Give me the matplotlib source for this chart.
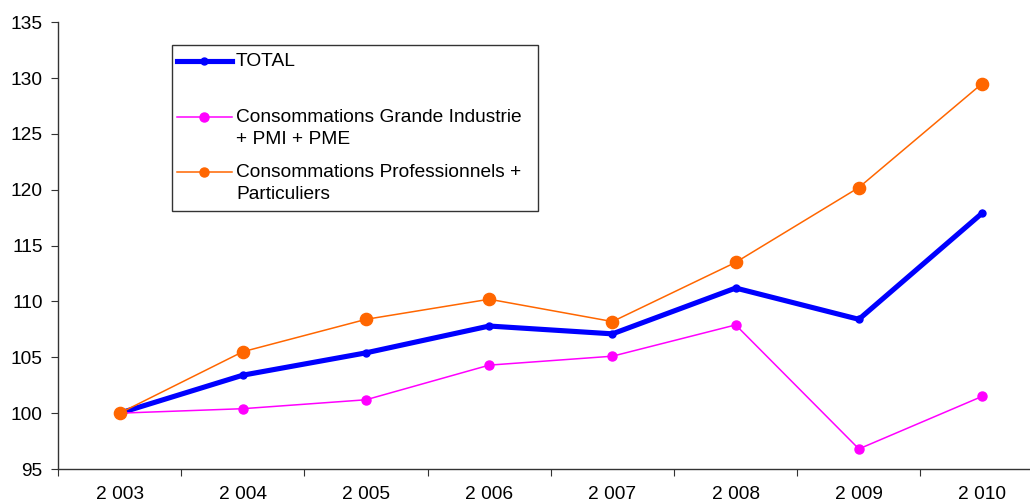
import matplotlib
matplotlib.use("Agg")
import matplotlib.pyplot as plt
from matplotlib.lines import Line2D
from matplotlib.patches import Rectangle

plt.rcParams['font.family'] = ['Liberation Sans', 'DejaVu Sans']

years = ['2 003', '2 004', '2 005', '2 006', '2 007', '2 008', '2 009', '2 010']
total = [100.0, 103.4, 105.4, 107.8, 107.1, 111.2, 108.4, 117.9]
industrie = [100.0, 100.4, 101.2, 104.3, 105.1, 107.9, 96.8, 101.5]
particuliers = [100.0, 105.5, 108.4, 110.2, 108.2, 113.5, 120.2, 129.5]

labels = ['TOTAL',
          'Consommations Grande Industrie\n+ PMI + PME',
          'Consommations Professionnels +\nParticuliers']

styles = [
    dict(color='#0000FF', lw=3.7, marker='o', ms=5),
    dict(color='#FF00FF', lw=1.1, marker='o', ms=6.5),
    dict(color='#FF6600', lw=1.1, marker='o', ms=8.8),
]

fs = 13.8

fig = plt.figure(figsize=(10.3, 5.04), dpi=100)
ax = fig.add_axes([0.0563, 0.0694, 0.957, 0.8866])

x = list(range(len(years)))
for vals, st in zip([total, industrie, particuliers], styles):
    ax.plot(x, vals, **st)

ax.set_xlim(-0.5, len(years) - 0.5)
ax.set_ylim(95, 135)
ax.set_yticks(range(95, 136, 5))

# ticks between categories, labels in the middle
ax.set_xticks([i - 0.5 for i in range(len(years) + 1)])
ax.set_xticklabels([])
ax.set_xticks(x, minor=True)
ax.set_xticklabels(years, minor=True)
ax.tick_params(axis='x', which='major', length=5, direction='out', color='#333333')
ax.tick_params(axis='x', which='minor', length=0, pad=12, labelsize=fs)
ax.tick_params(axis='y', length=5, direction='out', pad=6, labelsize=fs, color='#333333')

for s in ['top', 'right']:
    ax.spines[s].set_visible(False)
for s in ['left', 'bottom']:
    ax.spines[s].set_color('#333333')
    ax.spines[s].set_linewidth(1.0)

# legend box drawn like the Excel one (handle aligned with first text line)
W, H = 1030.0, 504.0
fig.add_artist(Rectangle((172 / W, 1 - 211 / H), 366 / W, 166 / H,
                         transform=fig.transFigure, fill=True, facecolor='white',
                         edgecolor='#333333', lw=1.0, zorder=5))
rows = [61, 117, 172]
for lab, st, yy in zip(labels, styles, rows):
    fy = 1 - yy / H
    fig.add_artist(Line2D([177 / W, 232 / W], [fy, fy], transform=fig.transFigure,
                          color=st['color'], lw=st['lw'], zorder=6))
    fig.add_artist(Line2D([204 / W], [fy], transform=fig.transFigure,
                          color=st['color'], marker='o', ms=min(st['ms'], 6.5), zorder=6))
    fig.text(236 / W, fy + 8 / H, lab, ha='left', va='top', fontsize=fs,
             linespacing=1.38, zorder=7)

fig.savefig('out.png', dpi=100)
